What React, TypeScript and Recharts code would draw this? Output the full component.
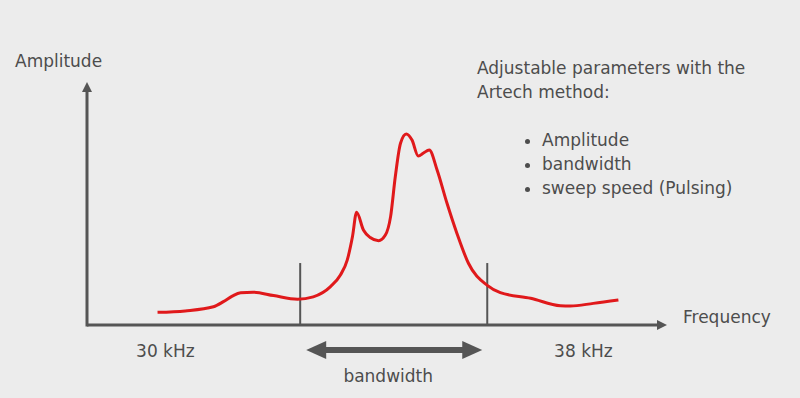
import { ComposedChart, Line, XAxis, YAxis, ReferenceLine } from "recharts";

// frequency in kHz, amplitude in arbitrary units
const freq = [
  29.85, 30.38, 30.92, 31.11, 31.28, 31.44, 31.68, 32.07, 32.53, 32.83, 33.16, 33.35, 33.48,
  33.58, 33.66, 33.79, 33.92, 34.08, 34.21, 34.31, 34.4, 34.5, 34.61, 34.72, 34.84, 34.94,
  35.05, 35.2, 35.39, 35.58, 35.8, 36.16, 36.41, 36.99, 37.56, 37.75, 38.19, 38.67,
];
const amplitude = [
  0.52, 0.58, 0.75, 0.96, 1.19, 1.33, 1.35, 1.21, 1.06, 1.16, 1.58, 2.06, 2.67,
  3.63, 4.64, 3.91, 3.6, 3.47, 3.7, 4.46, 6.1, 7.48, 7.86, 7.61, 6.95, 7.08,
  7.2, 6.38, 5.01, 3.77, 2.54, 1.63, 1.33, 1.1, 0.79, 0.78, 0.89, 1.03,
];
const freqTicks = [30, 38];
const bandLow = 32.58;
const bandHigh = 36.16;
const bandMarkHeight = 2.55;
const bandArrowLevel = -1.03;
const xRange = [28.5, 39.6];
const yRange = [0, 10];
const bullets = ["Amplitude", "bandwidth", "sweep speed (Pulsing)"];

const data = freq.map((f, i) => ({ f, a: amplitude[i] }));

const GREY = "#555555";
const TEXT = "#4d4d4d";
const FONT = "'DejaVu Sans', Verdana, sans-serif";
const FS = 17;

const XArrow = (p: any) => (
  <g>
    <line x1={p.x1} y1={p.y1} x2={p.x2 - 6} y2={p.y2} stroke={GREY} strokeWidth={3} />
    <polygon points={`${p.x2},${p.y2} ${p.x2 - 10},${p.y2 - 5} ${p.x2 - 10},${p.y2 + 5}`} fill={GREY} />
  </g>
);

const YArrow = (p: any) => (
  <g>
    <line x1={p.x1} y1={p.y1 + 1.5} x2={p.x2} y2={p.y2 + 6} stroke={GREY} strokeWidth={3} />
    <polygon points={`${p.x2},${p.y2} ${p.x2 - 5},${p.y2 + 10} ${p.x2 + 5},${p.y2 + 10}`} fill={GREY} />
  </g>
);

// double-headed arrow between the band edges, drawn slightly inside them
const BandArrow = (p: any) => {
  const y = p.y1;
  const l = Math.min(p.x1, p.x2) + 6;
  const r = Math.max(p.x1, p.x2) - 5;
  return (
    <g>
      <line x1={l + 15} y1={y} x2={r - 15} y2={y} stroke={GREY} strokeWidth={6} />
      <polygon points={`${l},${y} ${l + 20},${y - 9} ${l + 20},${y + 9}`} fill={GREY} />
      <polygon points={`${r},${y} ${r - 20},${y - 9} ${r - 20},${y + 9}`} fill={GREY} />
      <text x={(l + r) / 2 - 6} y={y + 32} textAnchor="middle" fill={TEXT} fontSize={FS} fontFamily={FONT}>
        bandwidth
      </text>
    </g>
  );
};

export default function App() {
  return (
    <div style={{ position: "absolute", left: 0, top: 0, width: 800, height: 398, background: "#ececec", fontFamily: FONT, color: TEXT }}>
      <ComposedChart width={800} height={398} data={data} margin={{ top: 82, right: 133, bottom: 43, left: 87 }}>
        <XAxis
          type="number"
          dataKey="f"
          domain={xRange}
          allowDataOverflow
          ticks={freqTicks}
          tickFormatter={(v) => `${v} kHz`}
          axisLine={false}
          tickLine={false}
          height={30}
          tickMargin={14}
          tick={{ fill: TEXT, fontSize: FS, fontFamily: FONT }}
        />
        <YAxis type="number" domain={yRange} allowDataOverflow hide />
        <ReferenceLine segment={[{ x: xRange[0], y: 0 }, { x: xRange[1], y: 0 }]} shape={XArrow} ifOverflow="visible" />
        <ReferenceLine segment={[{ x: xRange[0], y: 0 }, { x: xRange[0], y: yRange[1] }]} shape={YArrow} ifOverflow="visible" />
        <ReferenceLine segment={[{ x: bandLow, y: 0 }, { x: bandLow, y: bandMarkHeight }]} stroke={GREY} strokeWidth={2} ifOverflow="visible" />
        <ReferenceLine segment={[{ x: bandHigh, y: 0 }, { x: bandHigh, y: bandMarkHeight }]} stroke={GREY} strokeWidth={2} ifOverflow="visible" />
        <ReferenceLine
          segment={[{ x: bandLow, y: bandArrowLevel }, { x: bandHigh, y: bandArrowLevel }]}
          shape={BandArrow}
          ifOverflow="visible"
        />
        <Line type="monotone" dataKey="a" stroke="#e0191b" strokeWidth={3} dot={false} isAnimationActive={false} />
      </ComposedChart>
      <div style={{ position: "absolute", left: 15, top: 51, fontSize: FS }}>Amplitude</div>
      <div style={{ position: "absolute", left: 683, top: 307, fontSize: FS }}>Frequency</div>
      <div style={{ position: "absolute", left: 477, top: 56, fontSize: FS, lineHeight: "24px" }}>
        Adjustable parameters with the
        <br />
        Artech method:
      </div>
      <ul style={{ position: "absolute", left: 520, top: 128, margin: 0, paddingLeft: 22, fontSize: FS, lineHeight: "24px" }}>
        {bullets.map((b) => (
          <li key={b}>{b}</li>
        ))}
      </ul>
    </div>
  );
}
